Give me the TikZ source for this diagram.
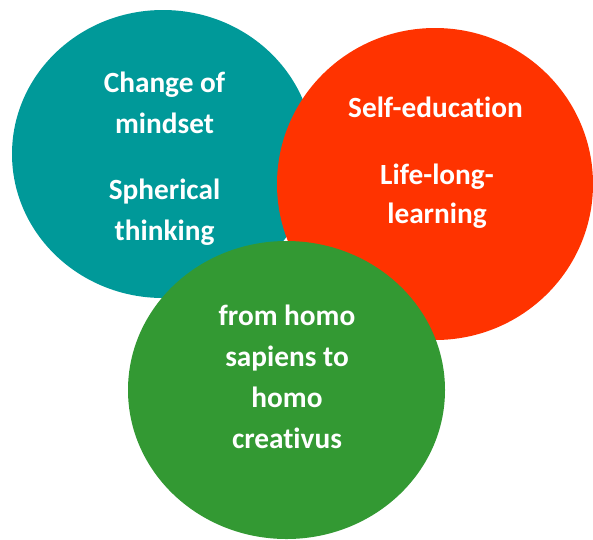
\documentclass[tikz,border=0pt]{standalone}
\usepackage{fontspec}
\setmainfont{Carlito}[Ligatures=NoCommon]
\usetikzlibrary{shapes.geometric}

\definecolor{tealcirc}{RGB}{0,153,153}
\definecolor{redcirc}{RGB}{255,51,0}
\definecolor{greencirc}{RGB}{51,153,51}

\tikzset{
  blob/.style={ellipse, draw=none, inner sep=0pt},
  label/.style={anchor=base, inner sep=0pt, text=white,
    font=\fontsize{29.3}{35}\selectfont\bfseries}
}

\begin{document}
\begin{tikzpicture}[x=1pt, y=-1pt]
  \useasboundingbox (0,0) rectangle (593,539);

  % three overlapping circles, drawn back to front
  \node[blob, fill=tealcirc,  minimum width=302pt, minimum height=288pt] (mind)  at (163,154) {};
  \node[blob, fill=redcirc,   minimum width=316pt, minimum height=312pt] (learn) at (435,184) {};
  \node[blob, fill=greencirc, minimum width=317pt, minimum height=298pt] (homo)  at (286.5,390) {};

  % teal circle text
  \node[label] (m1) at (164.5,92)  {Change of};
  \node[label] (m2) at (164.5,133) {mindset};
  \node[label] (m3) at (164.5,199) {Spherical};
  \node[label] (m4) at (164.5,240) {thinking};

  % red circle text
  \node[label] (l1) at (435.5,117) {Self-education};
  \node[label] (l2) at (437,184)   {Life-long-};
  \node[label] (l3) at (437,223)   {learning};

  % green circle text
  \node[label] (h1) at (287,325) {from homo};
  \node[label] (h2) at (287,366) {sapiens to};
  \node[label] (h3) at (287,407) {homo};
  \node[label] (h4) at (287,448) {creativus};
\end{tikzpicture}
\end{document}
